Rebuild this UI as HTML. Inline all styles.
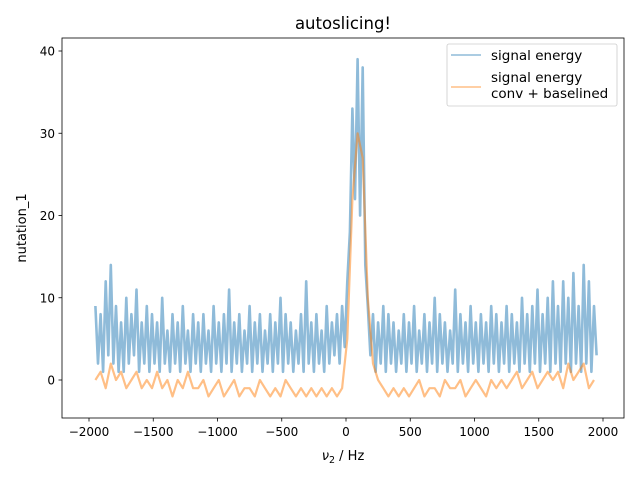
<!DOCTYPE html>
<html><head><meta charset="utf-8"><style>
body{margin:0;background:#fff;font-family:"Liberation Sans","DejaVu Sans",sans-serif}
svg text{font-family:"DejaVu Sans","Liberation Sans",sans-serif}
</style></head><body>
<svg id="chart" width="640" height="480" viewBox="0 0 640 480">
<rect width="640" height="480" fill="#fff"/>
<text x="343" y="29" font-size="16.5" text-anchor="middle">autoslicing!</text>
<g id="ticks"></g>
<g id="series"></g>
<rect x="62" y="38" width="562" height="380" fill="none" stroke="#000" stroke-width="0.8"/>
<text x="343" y="460" font-size="13" text-anchor="middle"><tspan font-style="italic">ν</tspan><tspan font-size="9.5" dy="3">2</tspan><tspan dy="-3"> / Hz</tspan></text>
<text transform="translate(26,228) rotate(-90)" font-size="13" text-anchor="middle">nutation_1</text>
<g>
<rect x="447" y="44" width="170" height="62" rx="2" fill="#fff" fill-opacity="0.8" stroke="#ccc" stroke-width="0.8"/>
<line x1="451" y1="55" x2="481" y2="55" stroke="#1f77b4" stroke-opacity="0.5" stroke-width="1.5"/>
<text x="491" y="60" font-size="13.5">signal energy</text>
<line x1="451" y1="87" x2="481" y2="87" stroke="#ff7f0e" stroke-opacity="0.5" stroke-width="1.5"/>
<text x="491" y="82" font-size="13.5">signal energy</text>
<text x="491" y="98" font-size="13.5">conv + baselined</text>
</g>
</svg>
<script>
const xTicks=[-2000,-1500,-1000,-500,0,500,1000,1500,2000];
const yTicks=[0,10,20,30,40];
const blueStart=-1950, blueStep=20;
const blueValues=[9,2,8,1,12,3,14,2,9,1,7,1,10,2,8,3,11,1,7,2,9,1,8,2,7,1,10,2,6,1,8,2,7,1,9,2,6,1,8,2,7,1,8,2,6,1,9,2,7,1,8,2,11,1,7,2,8,1,6,2,9,1,7,2,8,1,6,2,8,1,7,2,10,1,8,2,7,1,6,2,8,1,12,2,7,1,8,2,6,1,9,2,7,3,8,2,9,4,12,18,33,22,39,20,38,14,9,3,8,1,7,2,9,1,8,2,7,1,6,2,8,1,7,2,9,1,6,2,8,1,7,2,10,1,8,2,7,1,6,2,11,1,8,2,7,1,9,2,7,1,8,2,7,1,9,2,8,1,7,2,9,1,8,2,7,1,10,2,8,1,9,2,11,1,8,2,10,1,12,2,9,1,12,2,10,1,13,2,9,1,14,2,12,1,9,3];
const orangeStart=-1950, orangeStep=40;
const orangeValues=[0,1,-1,2,0,1,-1,0,1,-1,0,-1,1,-1,0,-2,0,-1,1,-1,-1,0,-2,-1,0,-2,-1,0,-2,-1,-1,-2,0,-1,-2,-1,-2,0,-1,-2,-1,-2,-1,-2,-1,-2,-1,-2,-1,5,22,30,27,10,2,0,-1,-2,-1,-2,-1,-2,-1,0,-2,-1,-1,-2,0,-1,-1,0,-2,-1,0,-1,-2,0,-1,0,-1,0,1,-1,0,1,-1,0,1,0,1,-1,2,0,1,2,-1,0];
const NS="http://www.w3.org/2000/svg";
const xs=v=>346+v*0.1285;
const ys=v=>380-v*8.225;
const tg=document.getElementById('ticks');
function mk(t,a,p){const e=document.createElementNS(NS,t);for(const k in a)e.setAttribute(k,a[k]);p.appendChild(e);return e;}
xTicks.forEach(v=>{
 const l=mk('line',{x1:xs(v),x2:xs(v),y1:418,y2:421.5,stroke:'#000','stroke-width':0.8},tg);
 
 
 const t=mk('text',{x:xs(v),y:436,'font-size':12,'text-anchor':'middle'},tg);
 
 
 t.textContent=v<0?'\u2212'+(-v):v;
});
yTicks.forEach(v=>{
 const l=mk('line',{x1:58.5,x2:62,y1:ys(v),y2:ys(v),stroke:'#000','stroke-width':0.8},tg);
 
 
 const t=mk('text',{x:55,y:ys(v)+4.5,'font-size':12,'text-anchor':'end'},tg);
 
 
 t.textContent=v;
});
const sg=document.getElementById('series');
const bp=blueValues.map((v,i)=>xs(blueStart+i*blueStep).toFixed(1)+','+ys(v).toFixed(1)).join(' ');
const b=mk('polyline',{points:bp,fill:'none',stroke:'#1f77b4','stroke-opacity':0.5,'stroke-width':2.6,'stroke-linejoin':'round'},sg);


const op=orangeValues.map((v,i)=>xs(orangeStart+i*orangeStep).toFixed(1)+','+ys(v).toFixed(1)).join(' ');
const o=mk('polyline',{points:op,fill:'none',stroke:'#ff7f0e','stroke-opacity':0.5,'stroke-width':2.2,'stroke-linejoin':'round'},sg);


</script>
</body></html>
